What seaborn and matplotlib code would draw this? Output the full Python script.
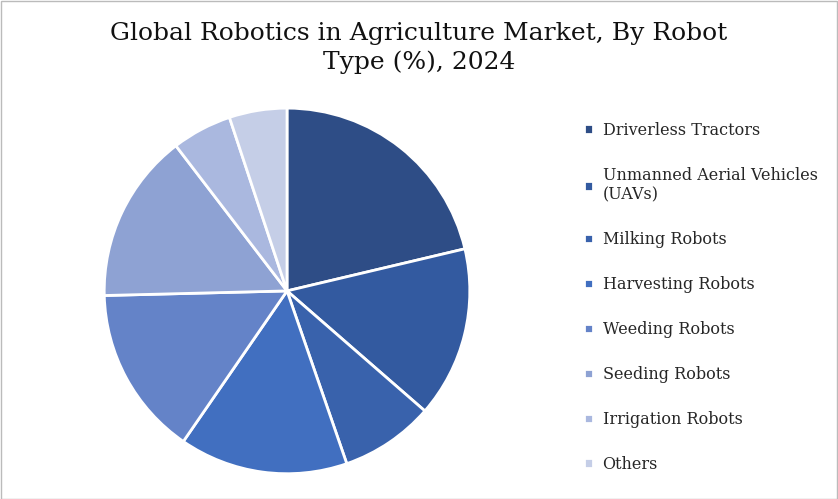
import matplotlib
matplotlib.use("Agg")
import matplotlib.pyplot as plt
import seaborn as sns
from matplotlib.patches import Rectangle

categories = ["Driverless Tractors", "Unmanned Aerial Vehicles\n(UAVs)", "Milking Robots",
              "Harvesting Robots", "Weeding Robots", "Seeding Robots",
              "Irrigation Robots", "Others"]
values = [21.3, 15.1, 8.3, 14.9, 15.0, 15.0, 5.3, 5.1]
colors = ["#2E4D86", "#335AA0", "#3962AC", "#416FC0", "#6483C8", "#8EA2D3", "#AAB8DF", "#C5CEE7"]

sns.set_theme(style="white", font="DejaVu Serif")
fig = plt.figure(figsize=(8.38, 4.99), dpi=100)
ax = fig.add_axes([0.12, 0.043, 0.445, 0.748])
wedges, _ = ax.pie(values, colors=sns.color_palette(colors), startangle=90, counterclock=False,
                   wedgeprops=dict(edgecolor="white", linewidth=2), radius=1.0)
ax.set_aspect("equal")
ax.set_xlim(-1.02, 1.02); ax.set_ylim(-1.02, 1.02)
fig.suptitle("Global Robotics in Agriculture Market, By Robot\nType (%), 2024",
             fontsize=18, y=0.955, color="#111111", linespacing=1.25)
leg = fig.legend(wedges, categories, loc="upper left", bbox_to_anchor=(0.68, 0.785),
                 frameon=False, fontsize=11.5, handlelength=0.55, handleheight=0.55,
                 labelspacing=1.75, handletextpad=0.6)
fig.patches.append(Rectangle((0.001, 0.001), 0.998, 0.997, transform=fig.transFigure,
                             fill=False, edgecolor="#BBBBBB", linewidth=1))
fig.savefig("out.png", dpi=100)
